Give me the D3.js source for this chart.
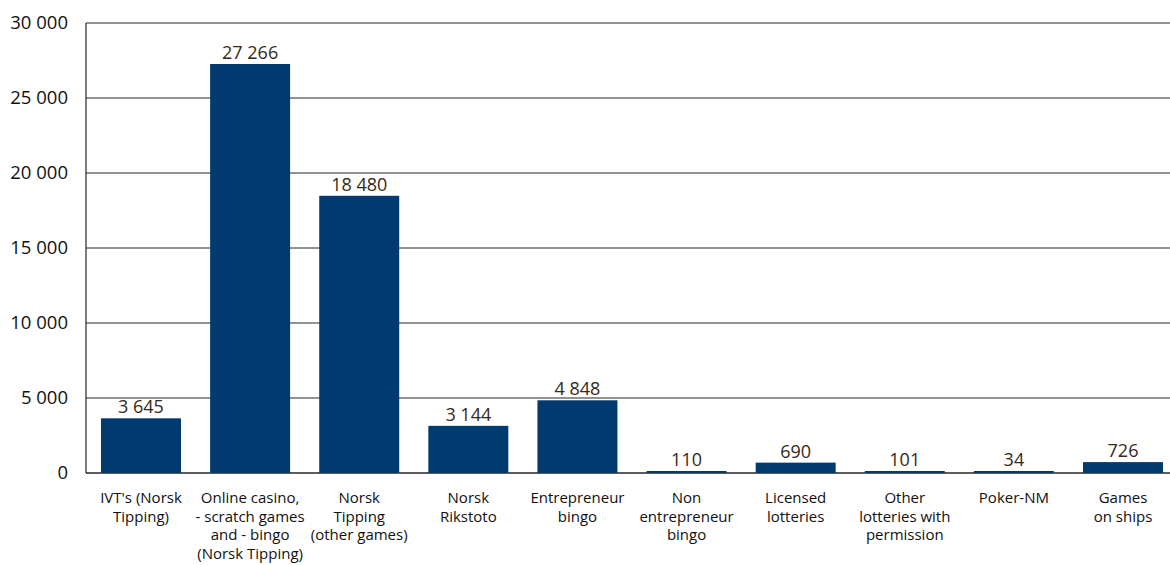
<!DOCTYPE html>
<html>
<head>
<meta charset="utf-8">
<script src="https://cdn.jsdelivr.net/npm/d3@7"></script>
<style>
  body { margin: 0; background: #fff; }
  text { font-family: "Open Sans", "DejaVu Sans", sans-serif; }
</style>
</head>
<body>
<script>
var width = 1170;
var height = 565;

// categories, one line per label row
var categories = [
  ["IVT's (Norsk", "Tipping)"],
  ["Online casino,", "- scratch games", "and - bingo", "(Norsk Tipping)"],
  ["Norsk", "Tipping", "(other games)"],
  ["Norsk", "Rikstoto"],
  ["Entrepreneur", "bingo"],
  ["Non", "entrepreneur", "bingo"],
  ["Licensed", "lotteries"],
  ["Other", "lotteries with", "permission"],
  ["Poker-NM"],
  ["Games", "on ships"]
];
var values = [3645, 27266, 18480, 3144, 4848, 110, 690, 101, 34, 726];
var yTicks = [0, 5000, 10000, 15000, 20000, 25000, 30000];

var plotLeft = 86, plotTop = 23, plotBottom = 473;

var svg = d3.select("body")
            .append("svg")
            .attr("width", width)
            .attr("height", height);

var x = d3.scaleBand()
          .domain(d3.range(values.length))
          .range([plotLeft, 1178])
          .paddingInner(0.267)
          .paddingOuter(0.1375);

var y = d3.scaleLinear()
          .domain([0, 30000])
          .range([plotBottom, plotTop]);

var fmt = function(v) { return d3.format(",")(v).replace(/,/g, " "); };

// gridlines
svg.selectAll("line.grid")
   .data(yTicks)
   .enter()
   .append("line")
   .attr("class", "grid")
   .attr("x1", plotLeft)
   .attr("x2", width)
   .attr("y1", function(d) { return y(d); })
   .attr("y2", function(d) { return y(d); })
   .style("stroke", "#262626")
   .style("stroke-width", function(d) { return d === 0 ? 1.6 : 1; });

// y axis line
svg.append("line")
   .attr("x1", plotLeft).attr("x2", plotLeft)
   .attr("y1", plotTop).attr("y2", plotBottom)
   .style("stroke", "#262626")
   .style("stroke-width", 1.2);

// y tick labels
svg.selectAll("text.ytick")
   .data(yTicks)
   .enter()
   .append("text")
   .attr("class", "ytick")
   .attr("x", 68)
   .attr("y", function(d) { return y(d) + 6; })
   .attr("text-anchor", "end")
   .style("font-size", "18.5px")
   .style("fill", "#111")
   .text(fmt);

// bars
svg.selectAll("rect.bar")
   .data(values)
   .enter()
   .append("rect")
   .attr("class", "bar")
   .attr("x", function(d, i) { return x(i); })
   .attr("y", function(d) { return Math.min(y(d), plotBottom - 2); })
   .attr("width", x.bandwidth())
   .attr("height", function(d) { return Math.max(plotBottom - y(d), 2); })
   .attr("fill", "#003a6f");

// value labels
svg.selectAll("text.val")
   .data(values)
   .enter()
   .append("text")
   .attr("class", "val")
   .attr("x", function(d, i) { return x(i) + x.bandwidth() / 2; })
   .attr("y", function(d) { return Math.min(y(d), plotBottom - 2) - 5; })
   .attr("text-anchor", "middle")
   .style("font-size", "18px")
   .style("fill", "#35291a")
   .text(fmt);

// category labels
var cat = svg.selectAll("text.cat")
   .data(categories)
   .enter()
   .append("text")
   .attr("class", "cat")
   .attr("text-anchor", "middle")
   .style("font-size", "15px")
   .style("fill", "#111");

cat.selectAll("tspan")
   .data(function(d, i) { return d.map(function(s) { return {s: s, i: i}; }); })
   .enter()
   .append("tspan")
   .attr("x", function(d) { return x(d.i) + x.bandwidth() / 2; })
   .attr("y", function(d, j) { return 503 + j * 18.7; })
   .text(function(d) { return d.s; });
</script>
</body>
</html>
